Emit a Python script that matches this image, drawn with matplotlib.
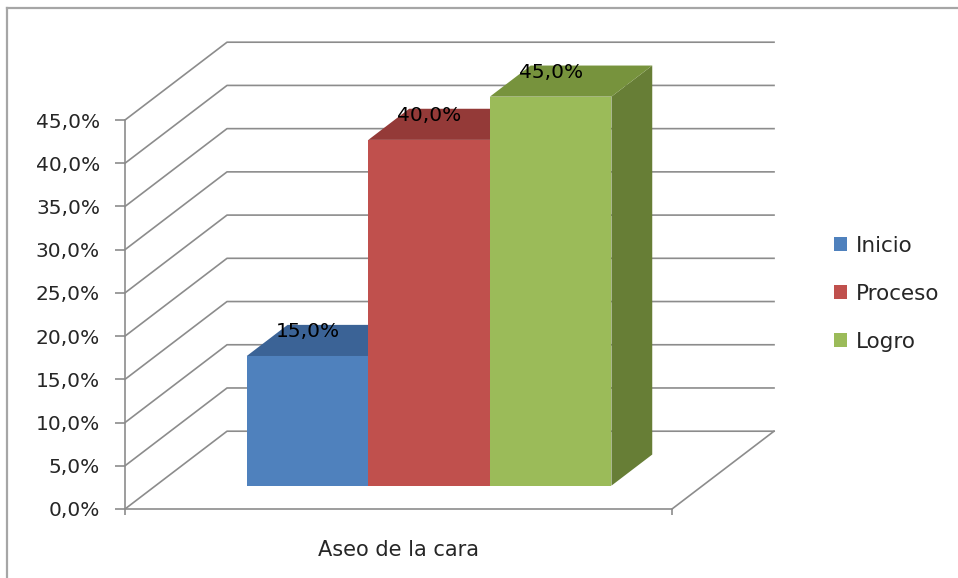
import matplotlib.pyplot as plt
from matplotlib.patches import Polygon, Patch

# chart data
categories = ["Aseo de la cara"]
series = ["Inicio", "Proceso", "Logro"]
values = [15.0, 40.0, 45.0]
y_ticks = [0, 5, 10, 15, 20, 25, 30, 35, 40, 45]
y_tick_labels = ["0,0%", "5,0%", "10,0%", "15,0%", "20,0%",
                 "25,0%", "30,0%", "35,0%", "40,0%", "45,0%"]

front_colors = ["#4F81BD", "#C0504D", "#9BBB59"]
top_colors = ["#3B6396", "#943A38", "#77933D"]
side_colors = ["#2F4F78", "#7A2E2C", "#677E36"]

GRID = "#8C8C8C"
FONT = "DejaVu Sans"

# oblique "3d" depth offset (x in category units, y in percent)
DX, DY = 0.1865, 9.0
GAP = 1.5            # gap width as in the spreadsheet chart
D0, D1 = 0.3, 0.7    # bar depth range inside the floor


def shift(x, y, d):
    return (x + d * DX, y + d * DY)


fig = plt.figure(figsize=(9.58, 5.78), dpi=100)
fig.patch.set_facecolor("white")

# outer chart frame (only top and left edges are visible)
fig.add_artist(plt.Line2D([7 / 958, 7 / 958], [0, 1 - 8 / 578],
                          color="#A6A6A6", lw=1.6, transform=fig.transFigure))
fig.add_artist(plt.Line2D([7 / 958, 1], [1 - 8 / 578, 1 - 8 / 578],
                          color="#A6A6A6", lw=1.6, transform=fig.transFigure))

ax = fig.add_axes([125 / 958, 69 / 578, 547 / 958, 389 / 578])
ax.set_xlim(0, 1)
ax.set_ylim(0, 45)
ax.set_facecolor("none")

# side wall and back wall gridlines
for v in y_ticks:
    bx, by = shift(0, v, 1)
    ax.plot([0, bx, 1 + DX], [v, by, by], color=GRID, lw=1.2,
            clip_on=False, zorder=1)

# floor right edge
fx, fy = shift(1, 0, 1)
ax.plot([1, fx], [0, fy], color=GRID, lw=1.2, clip_on=False, zorder=1)

# bars
n = len(values)
bar_w = 1 / (n + GAP)
start = 0.5 - n * bar_w / 2
for i, (v, name) in enumerate(zip(values, series)):
    x0 = start + i * bar_w
    x1 = x0 + bar_w
    front = [shift(x0, 0, D0), shift(x1, 0, D0), shift(x1, v, D0), shift(x0, v, D0)]
    top = [shift(x0, v, D0), shift(x1, v, D0), shift(x1, v, D1), shift(x0, v, D1)]
    side = [shift(x1, 0, D0), shift(x1, v, D0), shift(x1, v, D1), shift(x1, 0, D1)]
    z = 3 + i
    ax.add_patch(Polygon(side, closed=True, facecolor=side_colors[i],
                         edgecolor="none", clip_on=False, zorder=z))
    ax.add_patch(Polygon(top, closed=True, facecolor=top_colors[i],
                         edgecolor="none", clip_on=False, zorder=z))
    ax.add_patch(Polygon(front, closed=True, facecolor=front_colors[i],
                         edgecolor="none", clip_on=False, zorder=z))
    lx, ly = shift((x0 + x1) / 2, v, D0)
    ax.annotate(f"{v:.1f}%".replace(".", ","), xy=(lx, ly), xytext=(0, 17.5),
                textcoords="offset points", ha="center", va="center",
                fontsize=14.5, family=FONT, color="black", zorder=10,
                annotation_clip=False)

# axes styling
for s in ["top", "right"]:
    ax.spines[s].set_visible(False)
for s in ["left", "bottom"]:
    ax.spines[s].set_color(GRID)
    ax.spines[s].set_linewidth(1.2)
    ax.spines[s].set_zorder(2)

ax.set_yticks(y_ticks, labels=y_tick_labels)
ax.tick_params(axis="y", direction="out", length=7, width=1.2, color=GRID,
               pad=11, labelsize=14.5, labelcolor="#262626")
ax.set_xticks([0.5], labels=categories)
ax.tick_params(axis="x", which="major", length=0, pad=22,
               labelsize=15, labelcolor="#262626")
ax.set_xticks([0, 1], minor=True)
ax.tick_params(axis="x", which="minor", direction="out", length=4,
               width=1.2, color=GRID)
for lab in ax.get_xticklabels() + ax.get_yticklabels():
    lab.set_family(FONT)

handles = [Patch(facecolor=c, edgecolor="none") for c in front_colors]
leg = fig.legend(handles, series, loc="center left",
                 bbox_to_anchor=(834 / 958, 1 - 294 / 578),
                 frameon=False, prop={"family": FONT, "size": 15.5},
                 handlelength=0.62, handleheight=0.62, handletextpad=0.4,
                 labelspacing=1.3, borderpad=0, borderaxespad=0)
for t in leg.get_texts():
    t.set_color("#262626")

fig.savefig("out.png", dpi=100)
